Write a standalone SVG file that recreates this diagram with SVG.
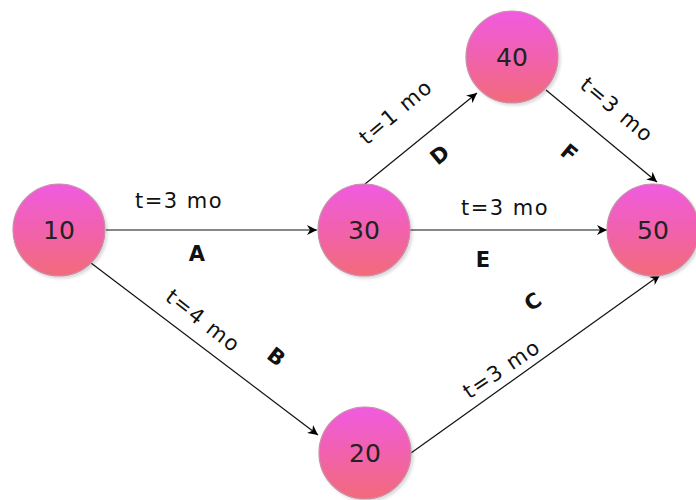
<svg xmlns="http://www.w3.org/2000/svg" width="696" height="500" viewBox="0 0 696 500">
<defs>
<linearGradient id="g" x1="0" y1="0" x2="0" y2="1">
<stop offset="0" stop-color="#f05ae0"/>
<stop offset="1" stop-color="#f26a7a"/>
</linearGradient>
<marker id="arr" viewBox="0 0 10 10" refX="10" refY="5" markerWidth="10" markerHeight="10" markerUnits="userSpaceOnUse" orient="auto">
<path d="M0,0 L10,5 L0,10 L3,5 Z" fill="#000"/>
</marker>
<filter id="sh" x="-20%" y="-20%" width="150%" height="150%">
<feDropShadow dx="2" dy="2" stdDeviation="1.5" flood-color="#000" flood-opacity="0.15"/>
</filter>
</defs>
<style>
.n{fill:url(#g);stroke:#c890a8;stroke-width:1.2;filter:url(#sh)}
.nl{font-family:"DejaVu Sans",Verdana,sans-serif;font-size:25px;fill:#222;text-anchor:middle;dominant-baseline:central}
.e{stroke:#111;stroke-width:1.2;fill:none;marker-end:url(#arr)}
.t{font-family:"DejaVu Sans",Verdana,sans-serif;font-size:21px;fill:#111;text-anchor:middle;dominant-baseline:central;letter-spacing:1.5px}
.b{font-family:"DejaVu Sans",Verdana,sans-serif;font-size:21px;font-weight:bold;fill:#111;text-anchor:middle;dominant-baseline:central}
</style>
<g id="edges">
<line class="e" x1="106" y1="230" x2="317" y2="230"/>
<line class="e" x1="410" y1="230" x2="607" y2="230"/>
<line class="e" x1="365" y1="184" x2="477" y2="93"/>
<line class="e" x1="546" y1="90" x2="657" y2="182"/>
<line class="e" x1="91" y1="263" x2="318" y2="435"/>
<line class="e" x1="411" y1="453" x2="660" y2="275"/>
</g>
<g id="labels">
<text class="t" x="179" y="201">t=3 mo</text>
<text class="b" x="197" y="254">A</text>
<text class="t" x="505" y="208">t=3 mo</text>
<text class="b" x="483" y="260">E</text>
<text class="t" transform="translate(396,112) rotate(-40)">t=1 mo</text>
<text class="b" transform="translate(440,155) rotate(-40)">D</text>
<text class="t" transform="translate(617,110) rotate(40)">t=3 mo</text>
<text class="b" transform="translate(569,153) rotate(40)">F</text>
<text class="t" transform="translate(203,321) rotate(38)">t=4 mo</text>
<text class="b" transform="translate(276,357) rotate(38)">B</text>
<text class="t" transform="translate(502,369) rotate(-34)">t=3 mo</text>
<text class="b" transform="translate(533,302) rotate(-34)">C</text>
</g>
<g id="n10"><circle class="n" cx="59" cy="230" r="46"/><text class="nl" x="59" y="230">10</text></g>
<g id="n30"><circle class="n" cx="364" cy="230" r="46"/><text class="nl" x="364" y="230">30</text></g>
<g id="n40"><circle class="n" cx="512" cy="57" r="46"/><text class="nl" x="512" y="57">40</text></g>
<g id="n50"><circle class="n" cx="653" cy="230" r="46"/><text class="nl" x="653" y="230">50</text></g>
<g id="n20"><circle class="n" cx="365" cy="453" r="46"/><text class="nl" x="365" y="453">20</text></g>
</svg>
